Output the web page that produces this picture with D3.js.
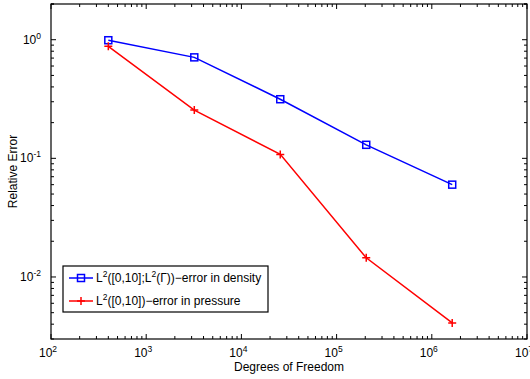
<!DOCTYPE html>
<html>
<head>
<meta charset="utf-8">
<script src="https://cdn.jsdelivr.net/npm/d3@7"></script>
<style>
  body { margin: 0; background: #fff; }
  svg { font-family: "Liberation Sans", Arial, sans-serif; }
</style>
</head>
<body>
<script>
const dof = [400, 3200, 25600, 204800, 1638400];
const densityErr = [0.99, 0.71, 0.315, 0.13, 0.06];
const pressureErr = [0.88, 0.255, 0.108, 0.0145, 0.0041];
const xTickExps = [2, 3, 4, 5, 6, 7];
const yTickExps = [-2, -1, 0];
const legendLabels = [
  ["L", "2", "([0,10];L", "2", "(\u0393))\u2212error in density"],
  ["L", "2", "([0,10])\u2212error in pressure"]
];

const width = 530, height = 379;
const pLeft = 51, pRight = 527, pTop = 4, pBottom = 339;

const svg = d3.select('body').append('svg')
  .attr('width', width)
  .attr('height', height);

const x = d3.scaleLog().domain([1e2, 1e7]).range([pLeft, pRight]);
const y = d3.scaleLog().domain([0.003, 2]).range([pBottom, pTop]);

// minor + major ticks
const xMinor = [];
for (let e = 2; e < 7; e++) for (let k = 2; k <= 9; k++) xMinor.push(k * Math.pow(10, e));
const yMinor = [];
for (let e = -3; e < 1; e++) for (let k = 2; k <= 9; k++) {
  const v = k * Math.pow(10, e);
  if (v >= 0.003 && v <= 2) yMinor.push(v);
}
yMinor.push(2);

const ax = svg.append('g').attr('stroke', '#000').attr('stroke-width', 1);
xMinor.forEach(v => {
  ax.append('line').attr('x1', x(v)).attr('x2', x(v)).attr('y1', pBottom).attr('y2', pBottom - 3);
  ax.append('line').attr('x1', x(v)).attr('x2', x(v)).attr('y1', pTop).attr('y2', pTop + 3);
});
xTickExps.forEach(e => {
  const v = Math.pow(10, e);
  ax.append('line').attr('x1', x(v)).attr('x2', x(v)).attr('y1', pBottom).attr('y2', pBottom - 5);
  ax.append('line').attr('x1', x(v)).attr('x2', x(v)).attr('y1', pTop).attr('y2', pTop + 5);
});
yMinor.forEach(v => {
  ax.append('line').attr('y1', y(v)).attr('y2', y(v)).attr('x1', pLeft).attr('x2', pLeft + 3);
  ax.append('line').attr('y1', y(v)).attr('y2', y(v)).attr('x1', pRight).attr('x2', pRight - 3);
});
yTickExps.forEach(e => {
  const v = Math.pow(10, e);
  ax.append('line').attr('y1', y(v)).attr('y2', y(v)).attr('x1', pLeft).attr('x2', pLeft + 5);
  ax.append('line').attr('y1', y(v)).attr('y2', y(v)).attr('x1', pRight).attr('x2', pRight - 5);
});

svg.append('rect')
  .attr('x', pLeft).attr('y', pTop)
  .attr('width', pRight - pLeft).attr('height', pBottom - pTop)
  .attr('fill', 'none').attr('stroke', '#000').attr('stroke-width', 1.2);

// tick labels
xTickExps.forEach(e => {
  const t = svg.append('text')
    .attr('x', x(Math.pow(10, e)) - 3).attr('y', 357)
    .attr('text-anchor', 'middle').attr('font-size', 12);
  t.append('tspan').text('10');
  t.append('tspan').attr('dy', -5).attr('font-size', 8.5).text(e);
});
yTickExps.forEach(e => {
  const t = svg.append('text')
    .attr('x', pLeft - 10).attr('y', y(Math.pow(10, e)) + 4)
    .attr('text-anchor', 'end').attr('font-size', 12);
  t.append('tspan').text('10');
  t.append('tspan').attr('dy', -5).attr('font-size', 8.5).text(e);
});

svg.append('text')
  .attr('x', (pLeft + pRight) / 2).attr('y', 371)
  .attr('text-anchor', 'middle').attr('font-size', 12)
  .text('Degrees of Freedom');
svg.append('text')
  .attr('transform', `translate(17,${(pTop + pBottom) / 2}) rotate(-90)`)
  .attr('text-anchor', 'middle').attr('font-size', 12)
  .text('Relative Error');

// lines
const line = d3.line().x(d => x(d[0])).y(d => y(d[1]));
const blue = dof.map((d, i) => [d, densityErr[i]]);
const red = dof.map((d, i) => [d, pressureErr[i]]);

svg.append('path').datum(blue).attr('d', line)
  .attr('fill', 'none').attr('stroke', '#0000ff').attr('stroke-width', 1.5);
svg.append('path').datum(red).attr('d', line)
  .attr('fill', 'none').attr('stroke', '#ff0000').attr('stroke-width', 1.5);

function square(g, cx, cy) {
  g.append('rect').attr('x', cx - 3.5).attr('y', cy - 3.5)
    .attr('width', 7).attr('height', 7)
    .attr('fill', 'none').attr('stroke', '#0000ff').attr('stroke-width', 1.5);
}
function plus(g, cx, cy) {
  g.append('path').attr('d', `M${cx - 4},${cy}H${cx + 4}M${cx},${cy - 4}V${cy + 4}`)
    .attr('stroke', '#ff0000').attr('stroke-width', 1.5);
}
blue.forEach(d => square(svg, x(d[0]), y(d[1])));
red.forEach(d => plus(svg, x(d[0]), y(d[1])));

// legend
const lg = svg.append('g');
lg.append('rect').attr('x', 63).attr('y', 266).attr('width', 205).attr('height', 46)
  .attr('fill', '#fff').attr('stroke', '#000').attr('stroke-width', 1.2);
const rows = [278, 301];
const colors = ['#0000ff', '#ff0000'];
rows.forEach((ry, i) => {
  lg.append('line').attr('x1', 69).attr('x2', 93).attr('y1', ry).attr('y2', ry)
    .attr('stroke', colors[i]).attr('stroke-width', 1.5);
  if (i === 0) square(lg, 81, ry); else plus(lg, 81, ry);
  const t = lg.append('text').attr('x', 96).attr('y', ry + 4).attr('font-size', 12);
  const parts = legendLabels[i];
  parts.forEach((p, j) => {
    const sup = j % 2 === 1;
    t.append('tspan')
      .attr('dy', sup ? -5 : (j > 0 ? 5 : 0))
      .attr('font-size', sup ? 8.5 : 12)
      .text(p);
  });
});
</script>
</body>
</html>
